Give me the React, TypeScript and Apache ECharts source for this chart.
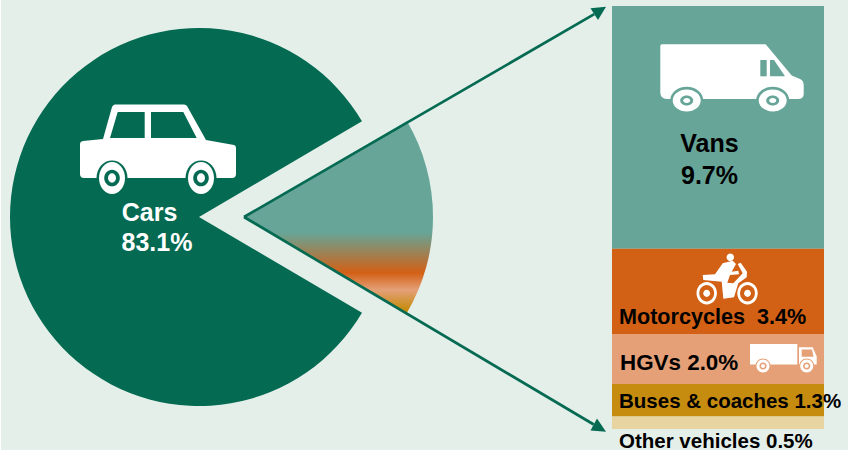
import React, { useEffect, useRef } from "react";
import * as echarts from "echarts";

const carsName = "Cars";
const carsValue = 83.1;
const stackNames = ["Vans", "Motorcycles", "HGVs", "Buses & coaches", "Other vehicles"];
const stackValues = [9.7, 3.4, 2.0, 1.3, 0.5];
const stackColors = ["#66A598", "#D26015", "#E5A077", "#C68C10", "#E8D4A0"];
const pct = (v: number) => v.toFixed(1) + "%";

const GREEN = "#046A52";
const BG = "#E4EFEA";
const FONT = '"Liberation Sans", Arial, sans-serif';

echarts.graphic.registerShape("carBody", echarts.graphic.extendPath(
  "M115 104.5 L184 104.5 Q186 104.5 187 106 L206 140 L234 145 Q236 145.5 236 148 L236 174 Q236 178 232 178 L84 178 Q80 178 80 174 L80 144 Q80 141.5 83 141 L103 139 L112 107 Q113 104.5 115 104.5 Z", {}));
echarts.graphic.registerShape("vanBody", echarts.graphic.extendPath(
  "M662 44.3 L765.7 44.3 L791.7 75.5 L800 79 Q803.7 80.5 803.7 85 L803.7 94 Q803.7 99 798 99 L667 99 Q660.3 99 660.3 92 L660.3 46 Q660.3 44.3 662 44.3 Z", {}));
echarts.graphic.registerShape("motoBody", echarts.graphic.extendPath(
  "M722.7 263.3 L732.7 260.7 L736 264 L731.7 271.7 L738.3 270.7 L739 274.3 L730 275 L727.3 282.7 L733.3 283.3 L742.7 273.3 L737.7 264 L740.7 262.7 L747 271.7 L746.7 277.3 L738.3 283.3 L734 297.3 L723.3 298.7 L721.7 281.7 L703.3 280 L702.7 275 L715 274.3 Z", {}));
echarts.graphic.registerShape("truckCab", echarts.graphic.extendPath(
  "M799 347.3 L812.7 347.3 L816.7 356.5 L816.7 364.5 L799 364.5 Z", {}));

const ell = (cx: number, cy: number, rx: number, ry: number, fill: string) => ({
  type: "ellipse", z: 10, silent: true, shape: { cx, cy, rx, ry }, style: { fill },
});
const poly = (points: number[][], fill: string) => ({
  type: "polygon", z: 10, silent: true, shape: { points }, style: { fill },
});
const shape = (type: string, fill: string) => ({ type, x: 0, y: 0, z: 9, silent: true, style: { fill } });
const txt = (text: string, x: number, y: number, size: number, fill: string, align = "center") => ({
  type: "text", z: 12, silent: true, x, y,
  style: { text, fill, font: `bold ${size}px ${FONT}`, align, verticalAlign: "middle" },
});
const wheel = (cx: number, cy: number, arch: number[], w: number[], ring: number[], hub: number[], dark: string) => [
  ell(cx, cy, arch[0], arch[1], dark),
  ell(cx, cy, w[0], w[1], "#fff"),
  ell(cx, cy, ring[0], ring[1], dark),
  ell(cx, cy, hub[0], hub[1], "#fff"),
];

const apex = [244, 217];
const arrow = (tip: number[], a: number[], b: number[]) => [
  { type: "line", z: 8, silent: true, shape: { x1: apex[0], y1: apex[1], x2: (a[0] + b[0]) / 2, y2: (a[1] + b[1]) / 2 }, style: { stroke: GREEN, lineWidth: 2.7 } },
  poly([tip, a, b], GREEN),
];

const [vans, moto, hgv, bus, other] = stackValues;
const stackTotal = stackValues.reduce((s, v) => s + v, 0);

export default function App() {
  const ref = useRef<HTMLDivElement>(null);
  useEffect(() => {
    document.body.style.margin = "0";
    document.body.style.background = "#fff";
    const chart = echarts.init(ref.current!, undefined, { renderer: "svg" });
    chart.setOption({
      animation: false,
      grid: { left: 612, top: 6, width: 212, height: 423, containLabel: false },
      xAxis: { type: "category", data: ["Other"], show: false },
      yAxis: { type: "value", min: 0, max: stackTotal, inverse: true, show: false },
      series: [
        ...stackNames.map((name, i) => ({
          type: "bar", name, stack: "s", barWidth: "100%", silent: true,
          data: [stackValues[i]], itemStyle: { color: stackColors[i] },
        })),
        {
          type: "pie", name: "main", center: [199, 217], radius: [0, 189], clockwise: false,
          startAngle: 30.42, silent: true, label: { show: false }, labelLine: { show: false },
          data: [
            { name: carsName, value: carsValue, itemStyle: { color: GREEN } },
            { name: "rest", value: stackTotal, itemStyle: { color: "transparent" } },
          ],
        },
        {
          type: "pie", name: "exploded", center: apex, radius: [0, 189], clockwise: false,
          startAngle: 30.42, silent: true, label: { show: false }, labelLine: { show: false },
          data: [
            { name: carsName, value: carsValue, itemStyle: { color: "transparent" } },
            {
              name: "Other", value: stackTotal,
              itemStyle: {
                color: {
                  type: "linear", global: true, x: 0, y: 121, x2: 0, y2: 313,
                  colorStops: [
                    { offset: 0, color: stackColors[0] },
                    { offset: 0.58, color: stackColors[0] },
                    { offset: 0.79, color: stackColors[1] },
                    { offset: 0.88, color: stackColors[2] },
                    { offset: 0.98, color: stackColors[3] },
                    { offset: 1, color: stackColors[3] },
                  ],
                },
              },
            },
          ],
        },
      ],
      graphic: {
        elements: [
          { type: "rect", z: -1, silent: true, shape: { x: 1, y: 0, width: 847, height: 450 }, style: { fill: BG } },
          ...arrow([606, 6.7], [590.5, 8.3], [598, 20]),
          ...arrow([606, 431.7], [590.5, 430.5], [597, 418.5]),

          // car
          shape("carBody", "#fff"),
          poly([[117.7, 112], [144.7, 112], [144.7, 138], [110, 138]], GREEN),
          poly([[151, 112], [183.3, 112], [196.7, 138], [151, 138]], GREEN),
          ...wheel(112, 178, [15.5, 17.5], [13, 16], [7.8, 8.3], [4, 4.7], GREEN),
          ...wheel(201, 178, [15.5, 17.5], [13, 16], [7.8, 8.3], [4, 4.7], GREEN),
          txt(carsName, 149.5, 212, 25, "#fff"),
          txt(pct(carsValue), 157, 242, 25, "#fff"),

          // van
          shape("vanBody", "#fff"),
          poly([[760.3, 60], [766.7, 60], [766.7, 76.3], [760.3, 76.3]], stackColors[0]),
          poly([[770, 60], [774, 60], [785, 76.3], [770, 76.3]], stackColors[0]),
          ...wheel(686.7, 100.5, [16.5, 13.7], [14, 11], [6.5, 5], [3.5, 2.5], stackColors[0]),
          ...wheel(772.7, 100.5, [16.5, 13.7], [14, 11], [6.5, 5], [3.5, 2.5], stackColors[0]),
          txt(stackNames[0], 709.5, 143, 25, "#000"),
          txt(pct(vans), 709.5, 175, 25, "#000"),

          // motorcycle
          ...wheel(706.7, 293.3, [10.2, 11.2], [10.2, 11.2], [7.4, 8.2], [3.4, 3.6], stackColors[1]),
          ...wheel(747.5, 293.3, [10.2, 11.2], [10.2, 11.2], [7.4, 8.2], [3.4, 3.6], stackColors[1]),
          shape("motoBody", "#fff"),
          ell(730.3, 257.3, 3.7, 3.9, "#fff"),
          txt(`${stackNames[1]}  ${pct(moto)}`, 619, 316, 21.6, "#000", "left"),

          // truck
          { type: "rect", z: 9, silent: true, shape: { x: 750, y: 344, width: 47.3, height: 20.5 }, style: { fill: "#fff" } },
          shape("truckCab", "#fff"),
          poly([[801.7, 349.5], [812, 349.5], [813.5, 356.7], [801.7, 356.7]], stackColors[2]),
          ...wheel(763, 366, [7.5, 7.5], [6.5, 6.5], [3.6, 3.6], [2, 2], stackColors[2]),
          ...wheel(806.7, 366, [7.5, 7.5], [6.5, 6.5], [3.6, 3.6], [2, 2], stackColors[2]),
          txt(`${stackNames[2]} ${pct(hgv)}`, 620, 362, 22.4, "#000", "left"),

          txt(`${stackNames[3]} ${pct(bus)}`, 619, 400, 20.5, "#000", "left"),
          txt(`${stackNames[4]} ${pct(other)}`, 619, 440, 20.5, "#000", "left"),
        ],
      },
    });
    return () => chart.dispose();
  }, []);
  return <div ref={ref} style={{ width: 856, height: 450 }} />;
}
